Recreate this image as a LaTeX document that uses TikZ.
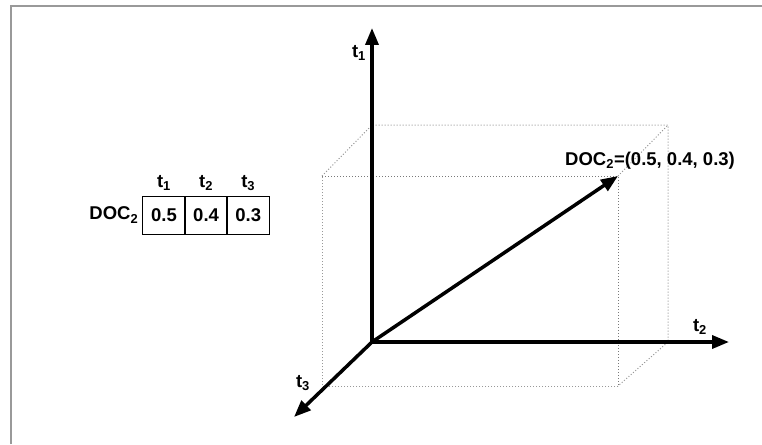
\documentclass[tikz,border=0pt]{standalone}
\usepackage{fontspec}
\setmainfont{Liberation Sans}
\usetikzlibrary{arrows.meta,positioning}

\begin{document}
\begin{tikzpicture}[x=1pt,y=-1pt,>={Triangle[length=17pt,width=13pt]},
  axis/.style={line width=3.5pt,->},
  guide/.style={gray!80,dotted,line width=1pt},
  lbl/.style={font=\fontsize{18.5}{20}\selectfont\bfseries,inner sep=1pt},
  cell/.style={draw,line width=0.9pt,minimum width=43pt,minimum height=38pt,inner sep=0pt,outer sep=0pt,lbl}]
  \useasboundingbox (0,0) rectangle (762,444);
  \draw[gray!80,line width=2pt] (11,444) -- (11,6) -- (762,6);
  % dotted box
  \coordinate (F1) at (322,176);
  \coordinate (F2) at (618,176);
  \coordinate (F3) at (618,386);
  \coordinate (F4) at (322,386);
  \coordinate (B1) at (372,125);
  \coordinate (B2) at (668,125);
  \coordinate (B3) at (668,342);
  \draw[guide] (F3) -- (F4) -- (F1);
  \draw[guide] (F1) -- (B1) -- (B2) -- (B3) -- (F3);
  \draw[guide] (F2) -- (B2);
  \draw[guide,gray!95!black] (F1) -- (F2) -- (F3);
  % axes
  \coordinate (O) at (372,342);
  \coordinate (T1) at (372,28);
  \coordinate (T2) at (729,342);
  \coordinate (T3) at (294,417);
  \draw[axis] (O) -- (T1);
  \draw[axis] (O) -- (T2);
  \draw[axis] (O) -- (T3);
  \draw[axis] (O) -- (F2);
  \node[lbl] (l1) at (359,53) {t\textsubscript{1}};
  \node[lbl] (l2) at (700,327) {t\textsubscript{2}};
  \node[lbl] (l3) at (303,383) {t\textsubscript{3}};
  \node[lbl,anchor=west] (vec) at (564,161) {DOC\textsubscript{2}=(0.5, 0.4, 0.3)};
  % table
  \node[cell] (c1) at (164,215) {0.5};
  \node[cell,right=-0.9pt of c1] (c2) {0.4};
  \node[cell,right=-0.9pt of c2] (c3) {0.3};
  \node[lbl,above=4pt of c1] (h1) {t\textsubscript{1}};
  \node[lbl,above=4pt of c2] (h2) {t\textsubscript{2}};
  \node[lbl,above=4pt of c3] (h3) {t\textsubscript{3}};
  \node[lbl,left=3pt of c1] (doc) {DOC\textsubscript{2}};
\end{tikzpicture}
\end{document}
